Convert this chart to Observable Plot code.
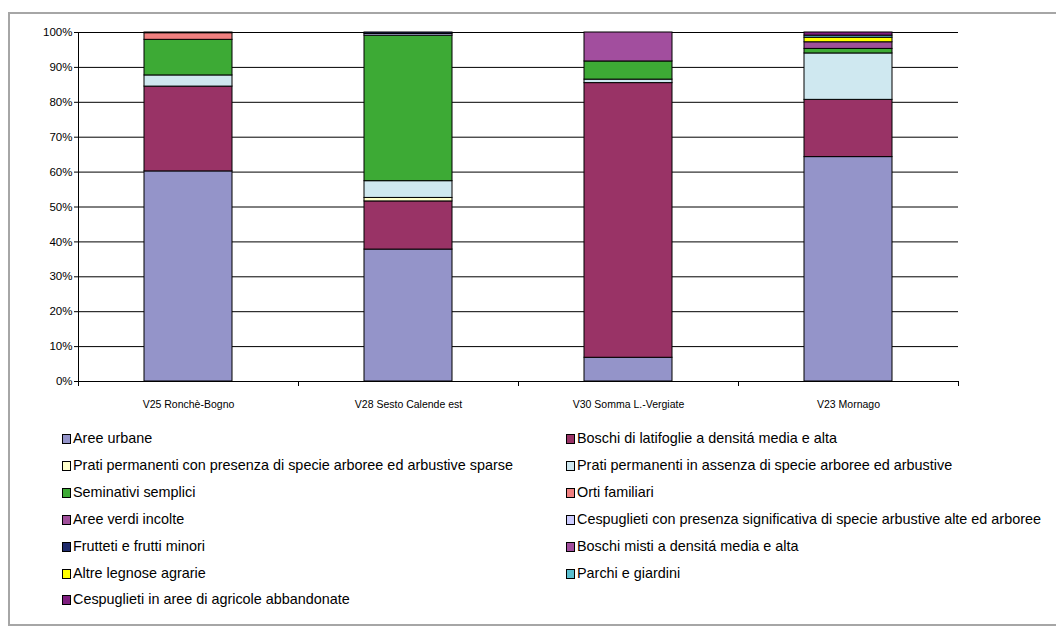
<!DOCTYPE html>
<html><head><meta charset="utf-8">
<script src="https://cdn.jsdelivr.net/npm/d3@7"></script>
<script src="https://cdn.jsdelivr.net/npm/@observablehq/plot@0.6"></script>
<style>
body{margin:0;background:#fff;font-family:"Liberation Sans",Arial,sans-serif;}
#wrap{position:relative;width:1056px;height:634px;overflow:hidden;background:#fff;}
#frame{position:absolute;left:8px;top:12px;width:1060px;height:614px;border:2px solid #a6a6a6;box-sizing:border-box;}
#chart{position:absolute;left:0;top:0;}
.item{position:absolute;font-size:14.4px;line-height:16px;white-space:nowrap;color:#000;}
.sw{position:absolute;left:0;top:4px;width:7px;height:8px;border:1px solid #000;}
.lbl{position:absolute;left:11px;top:0;}
</style>
</head><body>
<div id="wrap"><div id="frame"></div><div id="chart"></div><div id="legend"></div></div>
<script>
const categories = ["V25 Ronchè-Bogno","V28 Sesto Calende est","V30 Somma L.-Vergiate","V23 Mornago"];
const series = [
  "Aree urbane",
  "Boschi di latifoglie a densitá media e alta",
  "Prati permanenti con presenza di specie arboree ed arbustive sparse",
  "Prati permanenti in assenza di specie arboree ed arbustive",
  "Seminativi semplici",
  "Orti familiari",
  "Aree verdi incolte",
  "Cespuglieti con presenza significativa di specie arbustive alte ed arboree",
  "Frutteti e frutti minori",
  "Boschi misti a densitá media e alta",
  "Altre legnose agrarie",
  "Parchi e giardini",
  "Cespuglieti in aree di agricole abbandonate"
];
const colors = ["#9494c9","#993366","#ffffcc","#cfe8f0","#3daa35","#f08080","#a0509a","#ccccff","#1f2a6b","#a24e9e","#ffff00","#5bbfd0","#7f1f7f"];
const aree_urbane      = [60.2, 37.8,  6.8, 64.3];
const boschi_latifoglie= [24.3, 13.8, 78.7, 16.4];
const prati_presenza   = [ 0,    1.0,  0,    0  ];
const prati_assenza    = [ 3.2,  4.8,  1.0, 13.3];
const seminativi       = [10.2, 41.7,  5.2,  1.3];
const orti             = [ 1.9,  0,    0,    0  ];
const aree_verdi       = [ 0,    0,    0,    1.9];
const cespuglieti_pres = [ 0,    0.5,  0,    0  ];
const frutteti         = [ 0.2,  0.4,  0,    0  ];
const boschi_misti     = [ 0,    0,    8.3,  0  ];
const altre_legnose    = [ 0,    0,    0,    1.3];
const parchi           = [ 0,    0,    0,    0.6];
const cespuglieti_abb  = [ 0,    0,    0,    0.9];
const values = [aree_urbane,boschi_latifoglie,prati_presenza,prati_assenza,seminativi,orti,aree_verdi,cespuglieti_pres,frutteti,boschi_misti,altre_legnose,parchi,cespuglieti_abb];
const yTicks = [0,10,20,30,40,50,60,70,80,90,100];

const stacked = [];
categories.forEach((c,i)=>{
  let acc = 0;
  series.forEach((s,j)=>{
    const v = values[j][i];
    if (v > 0) stacked.push({cat:i, name:s, y1:acc, y2:acc+v});
    acc += v;
  });
});

const chart = Plot.plot({
  width:1056, height:420,
  marginLeft:78, marginRight:98, marginTop:32, marginBottom:39,
  style:{fontFamily:"'Liberation Sans', Arial, sans-serif", fontSize:"11px", color:"#000", background:"transparent"},
  x:{domain:[0,categories.length], axis:null},
  y:{domain:[0,100], axis:null},
  color:{domain:series, range:colors},
  marks:[
    Plot.gridY(yTicks, {stroke:"#000", strokeOpacity:1}),
    Plot.rectY(stacked, {x1:d=>d.cat+0.3, x2:d=>d.cat+0.7, y1:"y1", y2:"y2", fill:"name", stroke:"#000", strokeWidth:1}),
    Plot.ruleX([0], {stroke:"#000"}),
    Plot.ruleY([0], {stroke:"#000"}),
    Plot.axisY(yTicks, {tickFormat:d=>d+"%", tickSize:4, tickPadding:2, fontSize:11.5, stroke:"#000"}),
    Plot.axisX(d3.range(categories.length+1), {tickFormat:()=>"", tickSize:5, stroke:"#000"}),
    Plot.axisX(categories.map((c,i)=>i+0.5), {tickFormat:v=>categories[Math.floor(v)], tickSize:0, tickPadding:19, fontSize:10.5})
  ]
});
document.getElementById("chart").appendChild(chart);

const legend = document.getElementById("legend");
series.forEach((s,i)=>{
  const col = i % 2, row = Math.floor(i/2);
  const div = document.createElement("div");
  div.className = "item";
  div.style.left = (col ? 566 : 62) + "px";
  div.style.top = (430 + row*26.9) + "px";
  div.innerHTML = `<span class="sw" style="background:${colors[i]}"></span><span class="lbl"></span>`;
  div.querySelector(".lbl").textContent = s;
  legend.appendChild(div);
});
</script>
</body></html>
